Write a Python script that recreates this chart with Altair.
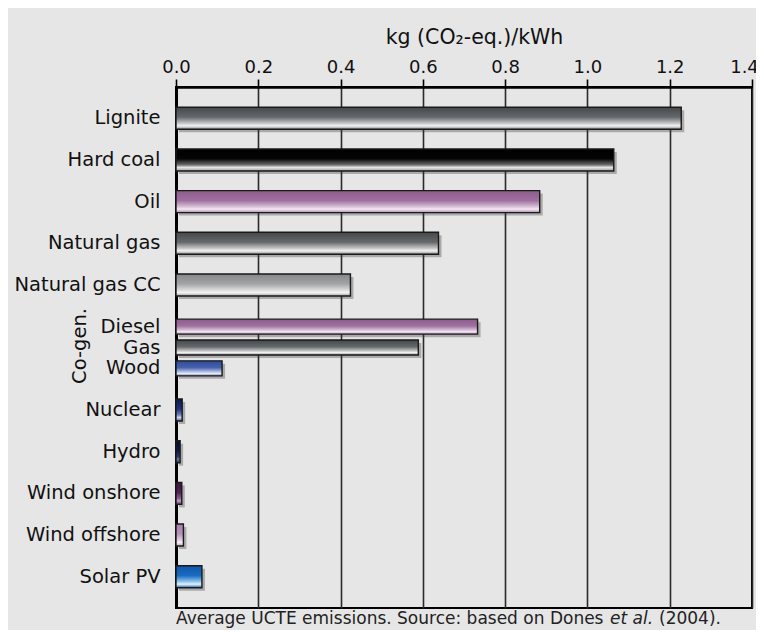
import altair as alt
import pandas as pd

categories = ["Lignite", "Hard coal", "Oil", "Natural gas", "Natural gas CC",
              "Diesel", "Gas", "Wood", "Nuclear", "Hydro",
              "Wind onshore", "Wind offshore", "Solar PV"]
values = [1.228, 1.064, 0.884, 0.638, 0.424,
          0.733, 0.589, 0.112, 0.015, 0.010,
          0.014, 0.018, 0.063]
cogen = ["Diesel", "Gas", "Wood"]
x_ticks = [0.0, 0.2, 0.4, 0.6, 0.8, 1.0, 1.2, 1.4]
axis_title = "kg (CO\u2082-eq.)/kWh"
note_parts = ["Average UCTE emissions. Source: based on Dones", "et al.", "(2004)."]

FONT = "DejaVu Sans"

# gradient styles (top -> bottom)
def grad(c0, c1, c2, c3, c4):
    return alt.Gradient(
        gradient="linear", x1=0, x2=0, y1=0, y2=1,
        stops=[alt.GradientStop(color=c0, offset=0),
               alt.GradientStop(color=c1, offset=0.45),
               alt.GradientStop(color=c2, offset=0.72),
               alt.GradientStop(color=c3, offset=0.84),
               alt.GradientStop(color=c4, offset=1)])

dark_grey = grad("#45484b", "#66696c", "#c2c3c4", "#f2f2f2", "#8e8e8e")
light_grey = grad("#85878a", "#a2a4a6", "#d8d8d8", "#f4f4f4", "#a8a8a8")
black = grad("#000000", "#050505", "#6a6a6a", "#e6e6e6", "#9a9a9a")
purple = grad("#8c5c8c", "#a070a0", "#d4bcd4", "#f4eaf4", "#b08ab0")
styles = {
    "Lignite": dark_grey,
    "Hard coal": black,
    "Oil": purple,
    "Natural gas": dark_grey,
    "Natural gas CC": light_grey,
    "Diesel": purple,
    "Gas": dark_grey,
    "Wood": grad("#304c98", "#4662ae", "#aebbe0", "#e4eaf6", "#7688c0"),
    "Nuclear": grad("#0a1850", "#1c3278", "#6a80c0", "#c8d4f0", "#4a5ea0"),
    "Hydro": grad("#050a30", "#0c1648", "#2a3a70", "#6a7aa8", "#202c60"),
    "Wind onshore": grad("#3e1240", "#541e58", "#8a5a8e", "#c0a0c4", "#5a2a5e"),
    "Wind offshore": grad("#a880ac", "#b890bc", "#e0cce2", "#f6eef6", "#c0a0c4"),
    "Solar PV": grad("#0f56aa", "#1a6cc0", "#8cc4ec", "#e4f2fc", "#1a64b4"),
}

# y slots: spacer before every main item, co-gen items packed together
slots = []
for c in categories:
    if c not in cogen[1:]:
        slots.append("_%d" % len(slots))
    slots.append(c)
slots.append("_%d" % len(slots))

df = pd.DataFrame({"cat": categories, "val": values})

x_enc = alt.X("val:Q",
              scale=alt.Scale(domain=[0, 1.4], nice=False, zero=True),
              axis=alt.Axis(orient="top", values=x_ticks, format=".1f",
                            title=axis_title, titleFont=FONT, titleFontSize=20.5,
                            titleFontWeight="normal", titleColor="#111",
                            titlePadding=11, titleX=298,
                            labelFont=FONT, labelFontSize=18, labelColor="#111",
                            labelPadding=3, labelFlush=False,
                            labelOffset={"condition": {"test": "datum.value >= 1.39",
                                                       "value": -8},
                                         "value": 0},
                            grid=True, gridColor="#2a2a2a", gridWidth=1.6,
                            domainColor="#000", domainWidth=2.5,
                            tickColor="#000", tickSize=8, tickWidth=1.6))
y_enc = alt.Y("cat:N",
              scale=alt.Scale(domain=slots, paddingInner=0, paddingOuter=0),
              sort=slots,
              axis=alt.Axis(title=None, ticks=False, labelFont=FONT,
                            labelFontSize=19.5, labelColor="#111", labelPadding=16,
                            labelLimit=300,
                            labelExpr="indexof(datum.label, '_') == 0 ? '' : datum.label",
                            domainColor="#000", domainWidth=3, grid=False))

base = alt.Chart(df)
layers = []
for cat in categories:
    h = 15 if cat in cogen else 22
    sub = base.transform_filter(alt.datum.cat == cat)
    layers.append(sub.mark_bar(height=h, color="#3a3a3a", opacity=0.35,
                               xOffset=3, yOffset=3).encode(x=x_enc, y=y_enc))
for cat in categories:
    h = 15 if cat in cogen else 22
    sub = base.transform_filter(alt.datum.cat == cat)
    layers.append(sub.mark_bar(height=h, fill=styles[cat], stroke="#1a1a1a",
                               strokeWidth=1.4).encode(x=x_enc, y=y_enc))

cogen_label = alt.Chart(pd.DataFrame({"t": ["Co-gen."]})).mark_text(
    font=FONT, fontSize=19.5, angle=270, color="#111", align="center",
    baseline="middle").encode(x=alt.value(-96), y=alt.value(259), text="t:N")

note_df = pd.DataFrame({"t": note_parts, "i": [0, 1, 2]})
n1 = alt.Chart(note_df).transform_filter(alt.datum.i == 0).mark_text(
    font=FONT, fontSize=17, align="left", baseline="alphabetic", color="#222"
).encode(x=alt.value(0), y=alt.value(537), text="t:N")
n2 = alt.Chart(note_df).transform_filter(alt.datum.i == 1).mark_text(
    font=FONT, fontSize=17, fontStyle="italic", align="left",
    baseline="alphabetic", color="#222"
).encode(x=alt.value(434), y=alt.value(537), text="t:N")
n3 = alt.Chart(note_df).transform_filter(alt.datum.i == 2).mark_text(
    font=FONT, fontSize=17, align="left", baseline="alphabetic", color="#222"
).encode(x=alt.value(483), y=alt.value(537), text="t:N")

chart = alt.layer(*layers, cogen_label, n1, n2, n3).properties(
    width=576, height=521,
    autosize=alt.AutoSizeParams(type="none"),
    padding={"left": 168, "top": 79, "right": 4, "bottom": 22},
).configure(background="#e6e6e6").configure_view(stroke="#000", strokeWidth=2)

chart.save("out.html", embed_options={"renderer": "svg", "actions": False})
